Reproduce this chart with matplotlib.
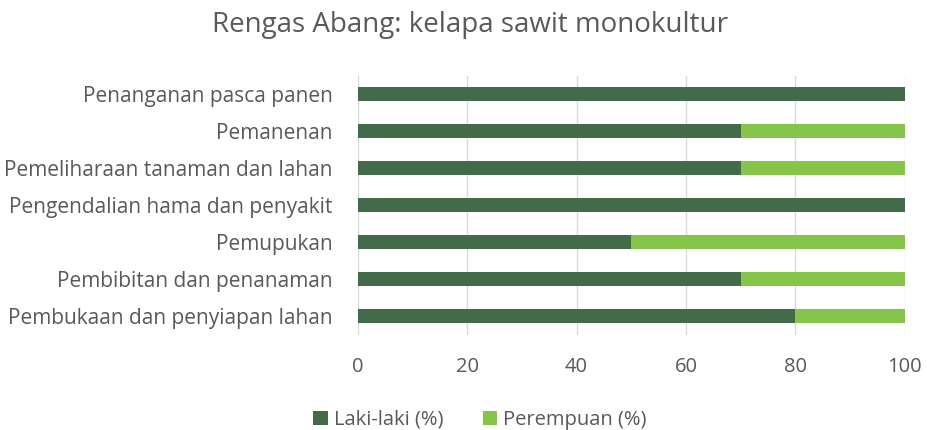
import matplotlib
matplotlib.use("Agg")
import matplotlib.pyplot as plt
import numpy as np

plt.rcParams['font.family'] = ['Open Sans', 'DejaVu Sans']

# data (bottom to top)
categories = [
    "Pembukaan dan penyiapan lahan",
    "Pembibitan dan penanaman",
    "Pemupukan",
    "Pengendalian hama dan penyakit",
    "Pemeliharaan tanaman dan lahan",
    "Pemanenan",
    "Penanganan pasca panen",
]
laki_laki = [80, 70, 50, 100, 70, 70, 100]
perempuan = [20, 30, 50, 0, 30, 30, 0]

dark_green = '#436b4a'
light_green = '#86c44a'
text_color = '#595959'

fig = plt.figure(figsize=(9.27, 4.30), dpi=100)
ax = fig.add_axes([0.386, 0.222, 0.590, 0.602])

y = np.arange(len(categories))
ax.barh(y, laki_laki, height=0.38, color=dark_green, label='Laki-laki (%)', zorder=3)
ax.barh(y, perempuan, left=laki_laki, height=0.38, color=light_green,
        label='Perempuan (%)', zorder=3)

ax.set_xlim(0, 100)
ax.set_ylim(-0.5, len(categories) - 0.5)
ax.set_xticks(range(0, 101, 20))
ax.set_yticks(y)
ax.set_yticklabels(categories)
ax.tick_params(axis='y', length=0, labelsize=15, colors=text_color, pad=18)
ax.tick_params(axis='x', length=0, labelsize=14.5, colors=text_color, pad=16)
ax.grid(axis='x', color='#d9d9d9', linewidth=1, zorder=0)
for s in ax.spines.values():
    s.set_visible(False)

fig.suptitle('Rengas Abang: kelapa sawit monokultur', x=0.507, y=0.975,
             fontsize=20, color=text_color)

fig.legend(loc='lower center', bbox_to_anchor=(0.518, -0.042), ncol=2, frameon=False,
           fontsize=14.5, labelcolor=text_color, handlelength=0.7, handleheight=0.7,
           handletextpad=0.3, columnspacing=2.0)

fig.savefig('out.png', dpi=100)
